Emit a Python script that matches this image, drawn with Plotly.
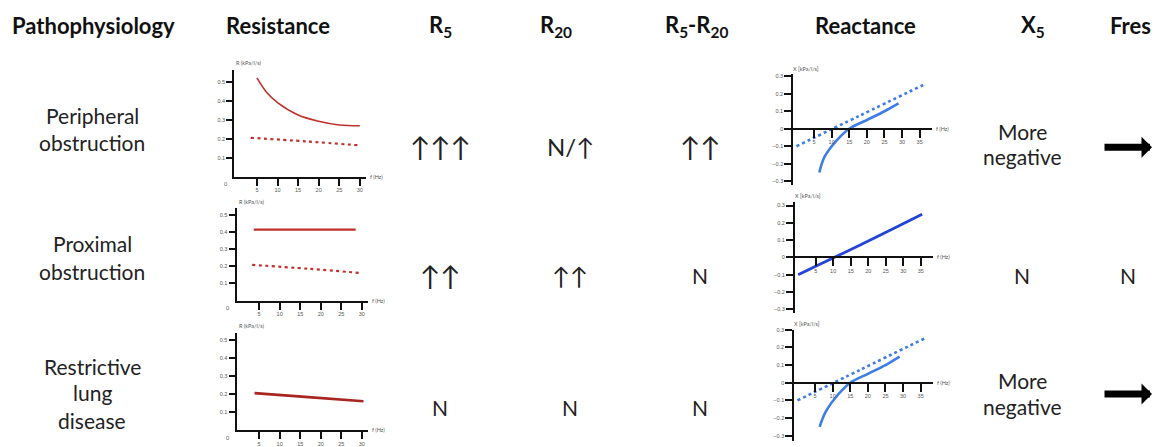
import plotly.graph_objects as go

W, H = 1155, 447

# ---------------- data ----------------
headers = ["Pathophysiology", "Resistance", "R<sub>5</sub>", "R<sub>20</sub>",
           "R<sub>5</sub>-R<sub>20</sub>", "Reactance", "X<sub>5</sub>", "Fres"]

conditions = [["Peripheral", "obstruction"],
              ["Proximal", "obstruction"],
              ["Restrictive", "lung", "disease"]]
r5_vals = ["↑↑↑", "↑↑", "N"]
r20_vals = ["N/↑", "↑↑", "N"]
r5r20_vals = ["↑↑", "N", "N"]
x5_vals = [["More", "negative"], ["N"], ["More", "negative"]]
fres_vals = ["→", "N", "→"]

# Resistance curves (f in Hz, R in kPa/l/s)
res_f_periph = [5, 7.5, 10, 15, 20, 25, 30]
res_periph = [0.52, 0.44, 0.39, 0.325, 0.292, 0.272, 0.268]
res_f_periph_norm = [3.5, 17, 30]
res_periph_norm = [0.205, 0.186, 0.165]

res_f_prox = [3.7, 16, 28.5]
res_prox = [0.415, 0.415, 0.415]
res_f_prox_norm = [3.3, 17, 30]
res_prox_norm = [0.209, 0.186, 0.161]

res_f_restr = [3.9, 17, 30.4]
res_restr = [0.205, 0.183, 0.16]

# Reactance curves (f in Hz, X in kPa/l/s)
xr_f_periph = [6.5, 8, 11.5, 15, 20, 25, 29]
xr_periph = [-0.25, -0.16, -0.065, 0.0, 0.05, 0.1, 0.145]
xr_f_norm = [0, 18, 36]
xr_norm = [-0.1, 0.075, 0.25]

xr_f_prox = [0, 18, 35.4]
xr_prox = [-0.1, 0.075, 0.25]

xr_f_restr = [6.3, 8, 11.5, 15, 20, 25, 29]
xr_restr = [-0.25, -0.165, -0.068, 0.0, 0.05, 0.1, 0.148]

res_ticks = [5, 10, 15, 20, 25, 30]
res_yticks = [0.1, 0.2, 0.3, 0.4, 0.5]
xr_ticks = [5, 10, 15, 20, 25, 30, 35]
xr_yticks = [-0.3, -0.2, -0.1, 0, 0.1, 0.2, 0.3]

# ---------------- layout helpers ----------------
def px(x):
    return x / W

def py(y):
    return 1 - y / H

RED = "#c0302a"
RED_D = "#a8261f"
BLUE = "#3d7de6"
BLUE_D = "#2344d6"
FONT = "Lato, 'DejaVu Sans', sans-serif"

fig = go.Figure()

# panels: (x pixel domain, y pixel domain (top,bottom), x range, y range)
res_panels = [
    ((234.3, 366.0), (68.4, 177.0), [-0.5, 31.5], [0, 0.56]),
    ((236.5, 368.0), (209.0, 303.0), [-0.5, 31.5], [0, 0.54]),
    ((236.5, 368.0), (335.6, 435.0), [-0.5, 31.5], [0, 0.54]),
]
xr_panels = [
    ((793.3, 932.0), (72.8, 185.0), [-0.9, 38.5], [-0.32, 0.31]),
    ((795.0, 933.0), (202.7, 315.3), [-0.9, 38.5], [-0.32, 0.32]),
    ((794.3, 933.0), (332.7, 446.0), [-0.9, 38.5], [-0.33, 0.30]),
]

layout = dict(
    width=W, height=H, margin=dict(l=0, r=0, t=0, b=0),
    paper_bgcolor="white", plot_bgcolor="rgba(0,0,0,0)",
    showlegend=False, font=dict(family=FONT, color="#111"),
)

annotations = []
SMALL = 5.5
tickfont = dict(size=SMALL, color="#555", family="Arial, sans-serif")

def axis_common():
    return dict(showline=True, linewidth=2, linecolor="#111", showgrid=False,
                zeroline=False, ticks="outside", tickwidth=2, tickcolor="#111",
                tickfont=tickfont, fixedrange=True)

# resistance panels
for i, (xd, yd, xr, yr) in enumerate(res_panels):
    n = i + 1
    sfx = "" if n == 1 else str(n)
    xa = axis_common()
    xa.update(domain=[px(xd[0]), px(xd[1])], range=xr, anchor="y" + sfx,
              tickvals=res_ticks, ticklen=7)
    ya = axis_common()
    ya.update(domain=[py(yd[1]), py(yd[0])], range=yr, anchor="x" + sfx,
              tickvals=res_yticks, ticklen=6)
    layout["xaxis" + sfx] = xa
    layout["yaxis" + sfx] = ya
    annotations.append(dict(x=px(xd[0]), y=py(yd[0]) + 0.004, xref="paper", yref="paper",
                            text="R (kPa/l/s)", showarrow=False, xanchor="left",
                            yanchor="bottom", font=dict(size=SMALL, color="#555")))
    annotations.append(dict(x=px(xd[1]) + 0.002, y=py(yd[1]), xref="paper", yref="paper",
                            text="f (Hz)", showarrow=False, xanchor="left",
                            yanchor="middle", font=dict(size=SMALL, color="#555")))
    annotations.append(dict(x=px(xd[0]) - 0.004, y=py(yd[1]) - 0.006, xref="paper", yref="paper",
                            text="0", showarrow=False, xanchor="right",
                            yanchor="top", font=dict(size=SMALL, color="#555")))

# reactance panels
for i, (xd, yd, xr, yr) in enumerate(xr_panels):
    n = i + 4
    d0, d1 = py(yd[1]), py(yd[0])
    zero_pos = d0 + (0 - yr[0]) / (yr[1] - yr[0]) * (d1 - d0)
    xa = axis_common()
    xa.update(domain=[px(xd[0]), px(xd[1])], range=xr, anchor="free", position=zero_pos,
              tickvals=xr_ticks, ticklen=8)
    ya = axis_common()
    ya.update(domain=[d0, d1], range=yr, anchor=f"x{n}", tickvals=xr_yticks, ticklen=7)
    layout[f"xaxis{n}"] = xa
    layout[f"yaxis{n}"] = ya
    annotations.append(dict(x=px(xd[0]) - 0.002, y=d1 + 0.002, xref="paper", yref="paper",
                            text="X [kPa/l/s]", showarrow=False, xanchor="left",
                            yanchor="bottom", font=dict(size=SMALL, color="#555")))
    annotations.append(dict(x=px(xd[1]) + 0.002, y=zero_pos, xref="paper", yref="paper",
                            text="f (Hz)", showarrow=False, xanchor="left",
                            yanchor="middle", font=dict(size=SMALL, color="#555")))

# ---------------- traces ----------------
def add(x, y, n, color, width, dash="solid", shape="spline"):
    sfx = "" if n == 1 else str(n)
    fig.add_trace(go.Scatter(x=x, y=y, mode="lines", xaxis="x" + sfx, yaxis="y" + sfx,
                             line=dict(color=color, width=width, dash=dash, shape=shape),
                             hoverinfo="skip"))

add(res_f_periph, res_periph, 1, RED, 1.6)
add(res_f_periph_norm, res_periph_norm, 1, RED, 2.2, dash="3px,3.5px")
add(res_f_prox, res_prox, 2, RED, 2.4)
add(res_f_prox_norm, res_prox_norm, 2, RED, 2.2, dash="3px,3.5px")
add(res_f_restr, res_restr, 3, RED_D, 2.6)

add(xr_f_norm, xr_norm, 4, BLUE, 2.6, dash="3px,3px")
add(xr_f_periph, xr_periph, 4, BLUE, 2.6)
add(xr_f_prox, xr_prox, 5, BLUE_D, 2.8)
add(xr_f_norm, xr_norm, 6, BLUE, 2.6, dash="3px,3px")
add(xr_f_restr, xr_restr, 6, BLUE, 2.6)

# ---------------- text ----------------
header_x = [93, 278, 440, 556, 696, 865, 1033, 1130]
for t, x in zip(headers, header_x):
    annotations.append(dict(x=px(x), y=py(23), xref="paper", yref="paper", text=f"<b>{t}</b>",
                            showarrow=False, xanchor="center", yanchor="middle",
                            font=dict(size=22, color="#111", family=FONT)))

row_label_y = [[115, 142], [245, 273], [370, 397, 425]]
row_val_y = [146, 277, 412]
x5_y = [[131, 156], [277], [384, 411]]
fres_arrow_y = [147, None, 398]

def txt(x, y, s, size=21):
    annotations.append(dict(x=px(x), y=py(y), xref="paper", yref="paper", text=s,
                            showarrow=False, xanchor="center", yanchor="middle",
                            font=dict(size=size, color="#222", family=FONT)))

for r in range(3):
    for line, y in zip(conditions[r], row_label_y[r]):
        txt(92, y, line)
    txt(440, row_val_y[r], r5_vals[r], 27 if "↑" in r5_vals[r] else 21)
    txt(570, row_val_y[r], r20_vals[r], 24 if "↑" in r20_vals[r] else 21)
    txt(700, row_val_y[r], r5r20_vals[r], 27 if "↑" in r5r20_vals[r] else 21)
    for line, y in zip(x5_vals[r], x5_y[r]):
        txt(1022, y, line)
    if fres_vals[r] == "→":
        annotations.append(dict(x=px(1152), y=py(fres_arrow_y[r]), xref="paper", yref="paper",
                                ax=-49, ay=0, text="", showarrow=True, arrowhead=1,
                                arrowwidth=7, arrowsize=0.5, arrowcolor="#000"))
    else:
        txt(1128, row_val_y[r], fres_vals[r])

layout["annotations"] = annotations
fig.update_layout(**layout)
# remove the default 8px page margin so the figure sits at the window's origin
fig.write_html("out.html",
               config={"displayModeBar": False, "staticPlot": True},
               post_script="document.body.style.margin='0';"
                           "document.documentElement.style.overflow='hidden';")
